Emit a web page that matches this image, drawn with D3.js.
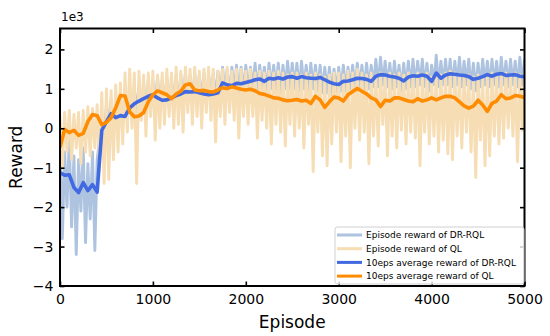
<!DOCTYPE html>
<html>
<head>
<meta charset="utf-8">
<script src="https://cdn.jsdelivr.net/npm/d3@7"></script>
<style>
  body { margin: 0; background: #fff; }
  svg { display: block; font-family: 'DejaVu Sans', sans-serif; }
</style>
</head>
<body>
<svg id="chart" width="550" height="336"></svg>
<script>
// raw episode rewards, sampled every 25 episodes (0..5000)
const rawStep = 25;
const rawDrRql = [
  -400, -2800, -600, -2000, -300, -2500, -700, -3200, -800, -2100, -500, -2900, -900, -2300, -600, -3100, -800,
  -300, 300, -200, 600, 100, 700, 100, 600, 0, 700, 100, 600, 300, 900, 400, 1000, 400, 1100, 500, 1100, 500, 1200, 600, 1200,
  600, 1300, 500, 1200, 600, 1300, 500, 1250, 600, 1350, 600, 1350, 700, 1400, 600, 1350, 700, 1400, 600, 1350,
  700, 1400, 600, 1350, 700, 1400, 700, 1450, 800, 1550, 900, 1500, 800, 1550, 900, 1600, 800, 1550, 900, 1600,
  900, 1550, 1000, 1650, 900, 1600, 1000, 1550, 900, 1650, 1000, 1600, 1000, 1650, 900, 1600, 1000, 1700, 1000, 1650,
  1000, 1650, 950, 1700, 1000, 1600, 950, 1650, 1000, 1600, 950, 1600, 900, 1550, 900, 1550, 850, 1500, 900, 1550,
  950, 1600, 950, 1550, 1000, 1600, 950, 1650, 1000, 1600, 950, 1650, 1000, 1600, 1050, 1750, 1050, 1800, 1100, 1700,
  1050, 1650, 1000, 1700, 1050, 1600, 950, 1650, 1000, 1700, 1050, 1750, 1050, 1700, 1100, 1750, 1050, 1650, 950, 1600,
  1100, 1850, 1050, 1700, 1100, 1750, 1100, 1750, 1050, 1700, 1100, 1800, 1050, 1700, 1100, 1750, 1000, 1650, 950, 1650,
  1050, 1750, 1100, 1700, 1050, 1750, 1100, 1700, 1050, 1800, 1100, 1700, 1050, 1750, 1100, 1700, 1050, 1800, 1100, 1750
];
const rawQl = [
  300, -1000, 400, -600, 450, -800, 350, -500, 400, -900, 450, -600, 550, -700, 500, -500, 600,
  -900, 900, -1400, 1000, -1300, 950, -800, 1100, -600, 1150, -400, 1400, -100, 1500, 0, 1400, -1400, 1450, 200, 1350, -200, 1400, 300, 1450,
  -300, 1350, 0, 1400, 100, 1500, 300, 1400, 0, 1550, 100, 1450, -100, 1550, 400, 1500, 100, 1550, 300, 1450,
  0, 1500, 400, 1550, 200, 1500, -350, 1450, 300, 1500, 100, 1550, 400, 1450, 200, 1500, -250, 1500, 300, 1450,
  100, 1500, 300, 1400, -250, 1450, 200, 1400, 0, 1450, -400, 1400, 100, 1450, -100, 1400, -450, 1350, 100, 1400,
  -200, 1400, 0, 1350, -500, 1400, 100, 1350, -1100, 1400, -100, 1350, -700, 1300, -950, 1350, -400, 1400, -100, 1400,
  -850, 1350, -200, 1450, -1000, 1400, 0, 1500, -300, 1400, -100, 1350, -900, 1400, -200, 1350, -450, 1400, 100, 1350,
  -700, 1400, -200, 1350, -500, 1400, -50, 1350, -400, 1400, -100, 1350, -250, 1400, -950, 1350, -100, 1400, -400, 1300,
  -200, 1400, -600, 1350, -300, 1400, -650, 1450, -800, 1400, -200, 1350, -500, 1300, -100, 1350, -600, 1300, -1250, 1350,
  -300, 1300, -950, 1350, -700, 1400, -200, 1350, -400, 1400, -250, 1400, 0, 1350, -200, 1400, -850, 1350, -50, 1400
];

// 10-episode running averages, sampled every 50 episodes (0..5000)
const avgStep = 50;
const avgDrRql = [
  -1130, -1190, -1180, -1500, -1630, -1380, -1580, -1430, -1620, -50,
  170, 370, 270, 320, 300, 520, 620, 690, 750, 810,
  850, 770, 710, 720, 770, 830, 870, 930, 920, 930,
  900, 870, 850, 870, 900, 1150, 1100, 1080, 1140, 1130,
  1160, 1190, 1230, 1250, 1190, 1270, 1250, 1280, 1250, 1300,
  1310, 1270, 1310, 1280, 1270, 1260, 1290, 1230, 1170, 1130,
  1110, 1190, 1200, 1230, 1270, 1260, 1240, 1190, 1320, 1360,
  1350, 1320, 1300, 1270, 1200, 1300, 1330, 1320, 1350, 1320,
  1190, 1400, 1270, 1350, 1380, 1370, 1350, 1340, 1310, 1240,
  1270, 1310, 1360, 1320, 1370, 1390, 1340, 1350, 1360, 1320,
  1310
];
const avgQl = [
  -480, -30, -110, -50, -180, -130, 170, 350, 320, 90,
  150, 270, 520, 830, 820, 420, 290, 310, 400, 670,
  850, 950, 900, 850, 750, 870, 940, 1100, 1130, 970,
  950, 960, 930, 920, 970, 1030, 1010, 1050, 1020, 990,
  970, 990, 950, 880, 860, 820, 770, 760, 720, 700,
  710, 730, 690, 710, 630, 810, 720, 530, 670, 790,
  770, 690, 850, 930, 1010, 940, 870, 770, 720, 550,
  710, 690, 770, 770, 730, 690, 670, 750, 690, 720,
  770, 720, 770, 810, 810, 770, 670, 570, 510, 560,
  710, 590, 430, 630, 690, 850, 750, 770, 830, 810,
  780
];

const xTicks = [0, 1000, 2000, 3000, 4000, 5000];
const yTicks = [-4000, -3000, -2000, -1000, 0, 1000, 2000];
const seriesLabels = [
  'Episode reward of DR-RQL',
  'Episode reward of QL',
  '10eps average reward of DR-RQL',
  '10eps average reward of QL'
];

const colors = ['#adc3e0', '#f6ddb4', '#4169e1', '#ff8c00'];
const lineWidths = [2.9, 2.9, 3.6, 3.6];

const plot = { left: 60, right: 524.5, top: 28.5, bottom: 286 };

const svg = d3.select('#chart');

const xScale = d3.scaleLinear().domain([0, 5000]).range([plot.left, plot.right]);
const yScale = d3.scaleLinear().domain([-4000, 2530]).range([plot.bottom, plot.top]);

svg.append('defs').append('clipPath').attr('id', 'clip')
  .append('rect')
  .attr('x', plot.left).attr('y', plot.top)
  .attr('width', plot.right - plot.left).attr('height', plot.bottom - plot.top);

const series = [
  { values: rawDrRql, step: rawStep },
  { values: rawQl, step: rawStep },
  { values: avgDrRql, step: avgStep },
  { values: avgQl, step: avgStep }
];

const line = (step) => d3.line()
  .x((d, i) => xScale(i * step))
  .y((d) => yScale(d));

const lines = svg.append('g').attr('clip-path', 'url(#clip)');
series.forEach((s, k) => {
  lines.append('path')
    .datum(s.values)
    .attr('d', line(s.step))
    .attr('fill', 'none')
    .attr('stroke', colors[k])
    .attr('stroke-width', lineWidths[k])
    .attr('stroke-linejoin', 'round');
});

// axes: inward ticks on all four sides
const minus = (v) => String(v).replace('-', '\u2212');
const xAxis = svg.append('g')
  .attr('transform', `translate(0, ${plot.bottom})`)
  .call(d3.axisBottom(xScale).tickValues(xTicks).tickSize(-4.5).tickSizeOuter(0).tickPadding(8.5)
    .tickFormat(d3.format('d')));
const yAxis = svg.append('g')
  .attr('transform', `translate(${plot.left}, 0)`)
  .call(d3.axisLeft(yScale).tickValues(yTicks).tickSize(-4.5).tickSizeOuter(0).tickPadding(6.5)
    .tickFormat((d) => minus(d / 1000)));
const topAxis = svg.append('g')
  .attr('transform', `translate(0, ${plot.top})`)
  .call(d3.axisTop(xScale).tickValues(xTicks).tickSize(-4.5).tickSizeOuter(0).tickFormat(''));
const rightAxis = svg.append('g')
  .attr('transform', `translate(${plot.right}, 0)`)
  .call(d3.axisRight(yScale).tickValues(yTicks).tickSize(-4.5).tickSizeOuter(0).tickFormat(''));

[xAxis, yAxis, topAxis, rightAxis].forEach((g) => {
  g.select('.domain').remove();
  g.selectAll('.tick line').attr('stroke', '#000').attr('stroke-width', 1.6);
  g.selectAll('.tick text')
    .attr('fill', '#000')
    .style('font-family', "'DejaVu Sans', sans-serif")
    .style('font-size', '14px');
});

svg.append('rect')
  .attr('x', plot.left).attr('y', plot.top)
  .attr('width', plot.right - plot.left).attr('height', plot.bottom - plot.top)
  .attr('fill', 'none')
  .attr('stroke', '#000')
  .attr('stroke-width', 2);

// axis titles and offset label
svg.append('text')
  .attr('x', (plot.left + plot.right) / 2)
  .attr('y', 328)
  .attr('text-anchor', 'middle')
  .style('font-size', '17px')
  .text('Episode');

svg.append('text')
  .attr('transform', `translate(22, ${(plot.top + plot.bottom) / 2}) rotate(-90)`)
  .attr('text-anchor', 'middle')
  .style('font-size', '17px')
  .text('Reward');

svg.append('text')
  .attr('x', 61)
  .attr('y', 21)
  .style('font-size', '12px')
  .text('1e3');

// legend
const legend = svg.append('g').attr('transform', 'translate(335, 227)');
legend.append('rect')
  .attr('width', 189).attr('height', 57)
  .attr('rx', 2.5)
  .attr('fill', '#fff').attr('fill-opacity', 0.8)
  .attr('stroke', '#d0d0d0').attr('stroke-width', 1);

const rows = legend.selectAll('g.row')
  .data(seriesLabels)
  .enter()
  .append('g')
  .attr('class', 'row')
  .attr('transform', (d, i) => `translate(0, ${8 + i * 13.7})`);

rows.append('line')
  .attr('x1', 2).attr('x2', 27)
  .attr('stroke', (d, i) => colors[i])
  .attr('stroke-width', 3);

rows.append('text')
  .attr('x', 31)
  .attr('dy', '0.35em')
  .style('font-size', '9px')
  .text((d) => d);
</script>
</body>
</html>
